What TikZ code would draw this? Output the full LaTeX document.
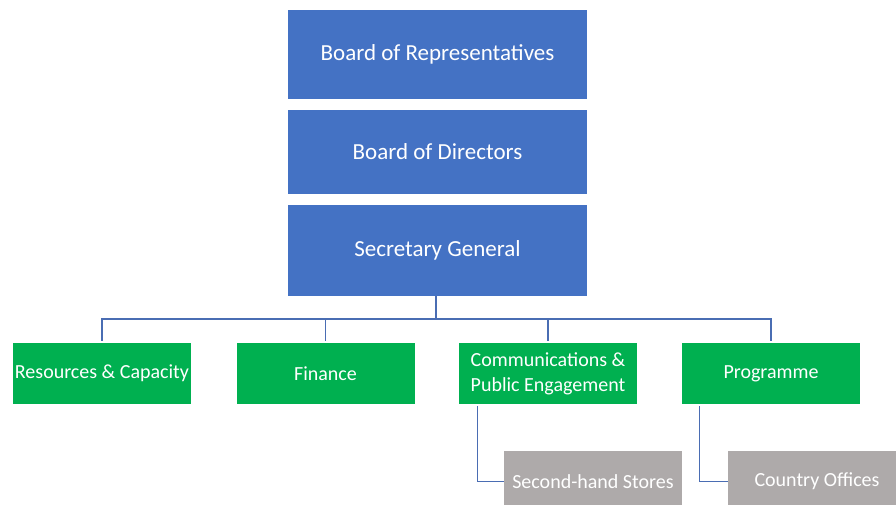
\documentclass[tikz,border=0pt]{standalone}
\usepackage{fontspec}
\setmainfont{Carlito}
\definecolor{boardblue}{HTML}{4472C4}
\definecolor{deptgreen}{HTML}{00B050}
\definecolor{unitgray}{HTML}{AEAAAA}
\definecolor{linkblue}{HTML}{4A6DB3}
\begin{document}
\begin{tikzpicture}[x=1pt,y=-1pt,
  board/.style={fill=boardblue, text=white, minimum width=299pt, font=\fontsize{23}{26}\selectfont},
  dept/.style={fill=deptgreen, text=white, minimum width=178pt, minimum height=61pt, inner sep=0pt, align=center, font=\fontsize{20}{25}\selectfont},
  unit/.style={fill=unitgray, text=white, minimum width=178pt, minimum height=61pt, font=\fontsize{20}{24}\selectfont},
  link/.style={draw=linkblue, line width=1.3pt}]
\useasboundingbox (0,0) rectangle (896,504);
% top of the chart
\node[board, minimum height=89pt] (rep) at (437.5,54.5) {Board of Representatives};
\node[board, minimum height=84pt] (dir) at (437.5,152) {Board of Directors};
\node[board, minimum height=91pt] (sec) at (437.5,250.5) {Secretary General};
% departments
\pgfmathsetmacro{\d}{373.5}
\node[dept] (res) at (102,\d) {Resources \& Capacity};
\node[dept] (fin) at (325.5,\d) {Finance};
\node[dept] (com) at (548,\d) {Communications \&\\Public Engagement};
\node[dept] (prog) at (771,\d) {Programme};
% units below
\node[unit] (shop) at (593,481.5) {Second-hand Stores};
\node[unit] (office) at (817,481.5) {Country Offices};
\coordinate (bar) at (436,319);
\draw[link] (sec.south -| bar) -- (bar);
\draw[link, shorten >=2pt] (bar) -| (res.north);
\draw[link, shorten >=2pt] (bar) -| (fin.north);
\draw[link, shorten >=2pt] (bar) -| (com.north);
\draw[link, shorten >=2pt] (bar) -| (prog.north);
\draw[link, shorten <=2pt] ([xshift=19pt]com.south west) |- (shop.west);
\draw[link, shorten <=2pt] ([xshift=18pt]prog.south west) |- (office.west);
\end{tikzpicture}
\end{document}
